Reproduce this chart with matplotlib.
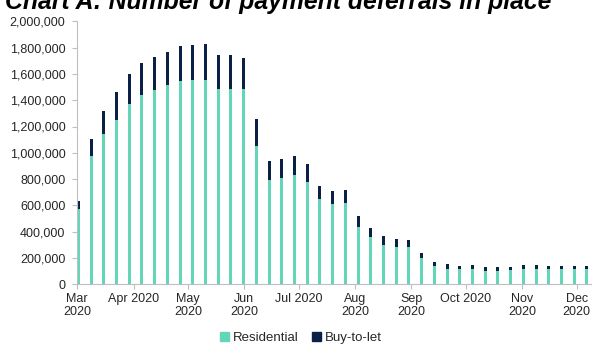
import matplotlib.pyplot as plt
from matplotlib.patches import Patch
import numpy as np

plt.rcParams['font.family'] = ['Liberation Sans', 'DejaVu Sans']

# weekly counts of payment deferrals, starting 1 March 2020
residential = [575000, 978000, 1143000, 1252000, 1369000, 1437000, 1480000,
               1516000, 1544000, 1554000, 1556000, 1485000, 1485000, 1485000,
               1052000, 791000, 806000, 830000, 776000, 646000, 613000,
               618000, 438000, 357000, 296000, 286000, 281000, 198000,
               141000, 119000, 116000, 114000, 103000, 103000, 109000,
               116000, 116000, 114000, 114000, 114000, 114000]
buy_to_let = [58000, 127000, 177000, 210000, 228000, 244000, 249000,
              253000, 266000, 268000, 269000, 259000, 259000, 238000,
              205000, 147000, 149000, 148000, 138000, 104000, 97000,
              97000, 84000, 73000, 69000, 58000, 54000, 42000,
              31000, 33000, 26000, 33000, 26000, 26000, 25000,
              31000, 28000, 23000, 23000, 23000, 23000]

month_days = [0, 31, 61, 92, 122, 153, 184, 214, 245, 275]
month_labels = ['Mar\n2020', 'Apr 2020\n', 'May\n2020', 'Jun\n2020',
                'Jul 2020\n', 'Aug\n2020', 'Sep\n2020', 'Oct 2020\n',
                'Nov\n2020', 'Dec\n2020']

teal = '#62d6b6'
navy = '#0b2046'
grey = '#bfbfbf'
text_col = '#262626'

res = np.array(residential)
btl = np.array(buy_to_let)
x = np.arange(len(res)) * 7 + 0.6

fig = plt.figure(figsize=(5.92, 3.45), dpi=100)
ax = fig.add_axes([77.3 / 592, 1 - 284.3 / 345, 1 - 77.3 / 592, (284.3 - 21.3) / 345])

ax.bar(x, res, width=1.65, color=teal, linewidth=0)
ax.bar(x, btl, width=1.65, bottom=res, color=navy, linewidth=0)

ax.set_xlim(0, 283.4)
ax.set_ylim(0, 2000000)
ax.set_yticks(np.arange(0, 2000001, 200000))
ax.yaxis.set_major_formatter(plt.FuncFormatter(lambda v, p: f'{int(v):,}'))
ax.set_xticks(month_days)
ax.set_xticklabels(month_labels, linespacing=1.1)

for s in ['top', 'right']:
    ax.spines[s].set_visible(False)
for s in ['left', 'bottom']:
    ax.spines[s].set_color(grey)
    ax.spines[s].set_linewidth(0.8)
ax.tick_params(axis='both', colors=grey, length=3.5, width=0.8,
               labelsize=9, labelcolor=text_col)
ax.tick_params(axis='y', pad=5)
ax.tick_params(axis='x', pad=3)

# the heading sits partly above the top edge of the figure
fig.text(0.008, 1 - 9 / 345, 'Chart A: Number of payment deferrals in place',
         fontsize=17.8, fontweight='bold', fontstyle='italic', va='baseline',
         color='black')

handles = [Patch(color=teal), Patch(color=navy)]
fig.legend(handles, ['Residential', 'Buy-to-let'], loc='center',
           bbox_to_anchor=(0.508, 1 - 338 / 345), ncol=2, frameon=False,
           fontsize=9.5, handlelength=0.7, handleheight=0.7, handletextpad=0.3,
           columnspacing=1.0, labelcolor=text_col)

fig.savefig('out.png', dpi=100)
